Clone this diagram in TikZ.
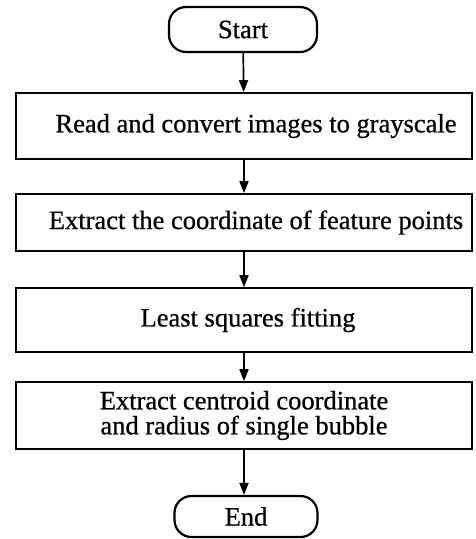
\documentclass[tikz,border=0pt]{standalone}
\usepackage{fontspec}
\setmainfont{Liberation Serif}[FakeBold=0.7]
\usetikzlibrary{arrows.meta}
\tikzset{
  label font/.style={font=\fontsize{26.5}{25}\selectfont},
  stepbox/.style={draw, line width=1.7pt, minimum width=456pt, inner sep=0pt,
    align=center, label font},
  terminal/.style={draw, line width=2.2pt, rounded corners=17pt, inner sep=0pt,
    label font},
  flow/.style={line width=1.7pt, -{Triangle[length=12pt,width=9pt]}}
}
% nudge a box label to the right of the box centre
\newcommand{\nudge}[1]{\hspace*{#1}}
\begin{document}
\begin{tikzpicture}[x=1pt,y=1pt]
  \useasboundingbox (0,0) rectangle (475,-539);
  \node[terminal, minimum width=148pt, minimum height=45pt] (start) at (243,-29.5) {Start};
  \node[stepbox, minimum height=66pt] (read) at (244,-126) {\nudge{24pt}Read and convert images to grayscale};
  \node[stepbox, minimum height=57pt] (feat) at (244,-222.5) {\nudge{24pt}Extract the coordinate of feature points};
  \node[stepbox, minimum height=64pt] (lsq) at (244,-320) {\nudge{8pt}Least squares fitting};
  \node[stepbox, minimum height=67pt] (cent) at (244,-415.5) {Extract centroid coordinate\\and radius of single bubble};
  \node[terminal, minimum width=143pt, minimum height=41pt] (end) at (246,-516.5) {End};
  \draw[flow] (start) -- (read);
  \draw[flow] (read) -- (feat);
  \draw[flow] (feat) -- (lsq);
  \draw[flow] (lsq) -- (cent);
  \draw[flow] (cent.south) -- (cent.south |- end.north);
\end{tikzpicture}
\end{document}
